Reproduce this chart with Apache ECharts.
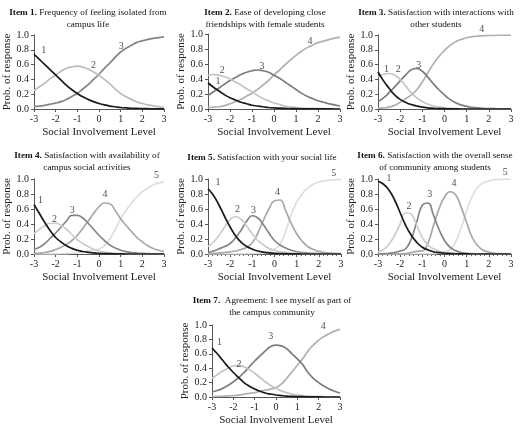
<!DOCTYPE html>
<html>
<head>
<meta charset="utf-8">
<script src="https://cdn.jsdelivr.net/npm/echarts@6/dist/echarts.min.js"></script>
<style>
html, body { margin: 0; padding: 0; background: #fff; }
#chart { width: 520px; height: 427px; }
</style>
</head>
<body>
<div id="chart"></div>
<script>
// theta grid shared by every panel
var xs = [-3, -2.75, -2.5, -2.25, -2, -1.75, -1.5, -1.25, -1, -0.75, -0.5, -0.25, 0,
	0.25, 0.5, 0.75, 1, 1.25, 1.5, 1.75, 2, 2.25, 2.5, 2.75, 3];

var item1 = [
	[.74, .67, .60, .53, .46, .39, .32, .26, .21, .165, .13, .10, .075, .055, .04, .03, .02, .015, .01, .008, .005, .004, .003, .002, .001],
	[.25, .30, .35, .41, .46, .51, .55, .57, .58, .565, .54, .50, .455, .40, .34, .27, .21, .165, .13, .095, .075, .056, .042, .033, .024],
	[.035, .04, .05, .065, .08, .10, .13, .17, .21, .27, .33, .40, .47, .55, .62, .70, .77, .82, .86, .90, .92, .94, .955, .965, .975]
];
var item2 = [
	[.35, .29, .24, .19, .15, .12, .09, .07, .05, .04, .03, .02, .015, .011, .008, .006, .004, .003, .002, .002, .001, .001, .001, 0, 0],
	[.45, .46, .45, .43, .40, .36, .32, .27, .23, .18, .14, .11, .08, .06, .04, .03, .02, .015, .01, .008, .005, .004, .003, .002, .001],
	[.18, .23, .28, .33, .38, .42, .46, .49, .51, .52, .51, .49, .45, .41, .36, .31, .26, .21, .17, .14, .11, .09, .07, .055, .04],
	[.02, .025, .03, .045, .07, .10, .13, .17, .21, .26, .32, .38, .455, .52, .59, .655, .715, .77, .815, .85, .885, .905, .925, .945, .958]
];
var item3 = [
	[.50, .38, .28, .19, .13, .09, .06, .04, .025, .016, .01, .006, .004, .002, .001, 0, 0, 0, 0, 0, 0, 0, 0, 0, 0],
	[.43, .47, .48, .46, .40, .31, .22, .15, .10, .065, .04, .025, .015, .009, .005, .003, .002, .001, 0, 0, 0, 0, 0, 0, 0],
	[.10, .15, .22, .30, .38, .46, .53, .55, .51, .43, .34, .26, .19, .13, .085, .055, .035, .022, .014, .009, .006, .004, .002, .001, .001],
	[.01, .015, .025, .05, .09, .14, .19, .26, .365, .49, .61, .71, .79, .86, .91, .94, .963, .977, .985, .99, .994, .996, .998, .999, .999]
];
var item4 = [
	[.66, .54, .42, .31, .22, .16, .11, .075, .05, .033, .022, .014, .009, .006, .004, .002, .001, 0, 0, 0, 0, 0, 0, 0, 0],
	[.27, .33, .38, .41, .41, .38, .33, .26, .19, .14, .10, .065, .04, .025, .015, .009, .005, .003, .002, .001, 0, 0, 0, 0, 0],
	[.06, .09, .14, .21, .28, .36, .44, .515, .515, .48, .41, .33, .25, .18, .12, .08, .05, .032, .02, .013, .008, .005, .003, .002, .001],
	[.01, .013, .02, .035, .06, .09, .13, .18, .25, .34, .44, .54, .63, .68, .67, .58, .47, .38, .30, .22, .16, .11, .075, .05, .035],
	[0, 0, 0, 0, .002, .003, .005, .01, .015, .025, .04, .055, .07, .11, .20, .33, .47, .58, .68, .76, .83, .88, .92, .945, .965]
];
var item5 = [
	[.87, .78, .65, .50, .36, .24, .155, .10, .065, .04, .025, .015, .01, .006, .004, .002, .001, 0, 0, 0, 0, 0, 0, 0, 0],
	[.10, .16, .25, .36, .46, .50, .46, .37, .27, .18, .12, .075, .05, .03, .02, .012, .008, .005, .003, .002, .001, 0, 0, 0, 0],
	[.02, .04, .07, .10, .14, .22, .32, .44, .51, .48, .39, .28, .18, .12, .08, .05, .03, .02, .012, .008, .005, .003, .002, .001, .001],
	[.005, .008, .012, .02, .03, .04, .06, .09, .15, .28, .45, .60, .71, .72, .58, .41, .27, .17, .10, .06, .035, .02, .012, .007, .004],
	[0, 0, 0, 0, 0, 0, .002, .003, .005, .008, .01, .03, .06, .13, .30, .52, .69, .80, .88, .93, .96, .975, .985, .99, .995]
];
var item6 = [
	[.97, .93, .85, .72, .55, .38, .25, .155, .09, .055, .03, .018, .01, .006, .003, .002, .001, 0, 0, 0, 0, 0, 0, 0, 0],
	[.03, .06, .13, .25, .40, .55, .53, .38, .22, .12, .07, .04, .02, .012, .006, .003, .002, .001, 0, 0, 0, 0, 0, 0, 0],
	[0, .005, .01, .02, .04, .07, .20, .43, .65, .68, .52, .33, .18, .09, .045, .02, .01, .005, .003, .002, .001, 0, 0, 0, 0],
	[0, 0, 0, .001, .003, .005, .02, .035, .04, .145, .375, .60, .76, .83, .79, .625, .417, .22, .11, .05, .025, .01, .005, .002, .001],
	[0, 0, 0, 0, 0, 0, 0, 0, .001, .002, .005, .01, .03, .06, .16, .35, .57, .77, .89, .95, .975, .99, .995, .998, .999]
];
var item7 = [
	[.68, .60, .51, .42, .34, .27, .20, .15, .11, .08, .055, .04, .028, .02, .013, .009, .006, .004, .003, .002, .001, 0, 0, 0, 0],
	[.26, .31, .36, .40, .43, .44, .42, .38, .33, .27, .21, .16, .12, .085, .06, .04, .028, .019, .013, .009, .006, .004, .003, .002, .001],
	[.07, .09, .12, .16, .21, .27, .34, .42, .50, .57, .64, .70, .72, .71, .67, .60, .53, .45, .34, .26, .20, .15, .11, .08, .055],
	[.005, .007, .01, .015, .02, .025, .04, .05, .06, .08, .095, .11, .13, .18, .26, .35, .44, .53, .64, .72, .79, .84, .88, .915, .94]
];

var items = [item1, item2, item3, item4, item5, item6, item7];

var titleBold = ['Item 1.', 'Item 2.', 'Item 3.', 'Item 4.', 'Item 5.', 'Item 6.', 'Item 7. '];
var titleRest = [
	[' Frequency of feeling isolated from', 'campus life'],
	[' Ease of developing close', 'friendships with female students'],
	[' Satisfaction with interactions with', 'other students'],
	[' Satisfaction with availability of', 'campus social activities'],
	[' Satisfaction with your social life'],
	[' Satisfaction with the overall sense', 'of community among students'],
	[' Agreement: I see myself as part of', 'the campus community']
];

// where the category numbers sit, in axis units
var labelPos = [
	[[-2.55, 0.79], [-0.25, 0.59], [1.03, 0.85]],
	[[-2.55, 0.37], [-2.35, 0.52], [-0.54, 0.57], [1.64, 0.9]],
	[[-2.62, 0.54], [-2.09, 0.54], [-1.16, 0.59], [1.68, 1.08]],
	[[-2.7, 0.72], [-2.05, 0.46], [-1.23, 0.58], [0.28, 0.8], [2.65, 1.05]],
	[[-2.55, 0.95], [-1.67, 0.59], [-0.95, 0.58], [0.14, 0.82], [2.67, 1.07]],
	[[-2.5, 1.01], [-1.6, 0.64], [-0.66, 0.8], [0.43, 0.94], [2.74, 1.09]],
	[[-2.65, 0.76], [-1.74, 0.46], [-0.25, 0.84], [2.21, 0.98]]
];

var colors3 = ['#1a1a1a', '#bcbcbc', '#858585'];
var colors4 = ['#1a1a1a', '#c4c4c4', '#7c7c7c', '#b0b0b0'];
var colors5 = ['#1a1a1a', '#cccccc', '#858585', '#a8a8a8', '#dedede'];

var grids = [
	{ left: 34, top: 35, width: 130, height: 74, tx: 88, ty: 7 },
	{ left: 208, top: 34, width: 132, height: 75, tx: 265, ty: 7 },
	{ left: 378, top: 35, width: 133, height: 74, tx: 436, ty: 7 },
	{ left: 34, top: 179, width: 130, height: 75, tx: 87, ty: 150 },
	{ left: 208, top: 179, width: 133, height: 75, tx: 262, ty: 152 },
	{ left: 378, top: 179, width: 133, height: 75, tx: 435, ty: 150 },
	{ left: 212, top: 325, width: 128, height: 73, tx: 272, ty: 295 }
];

var serif = 'Liberation Serif';
var option = {
	animation: false,
	backgroundColor: '#fff',
	title: [],
	grid: [],
	xAxis: [],
	yAxis: [],
	series: []
};

items.forEach(function(curves, i) {
	var g = grids[i];
	var minor = (i === 4 || i === 5);
	var cols = curves.length === 3 ? colors3 : (curves.length === 4 ? colors4 : colors5);
	var lines = titleRest[i];
	var text = '{b|' + titleBold[i] + '}{r|' + lines[0] + '}' + (lines[1] ? '\n{r|' + lines[1] + '}' : '');
	option.title.push({
		text: text,
		left: g.tx,
		top: g.ty,
		padding: 0,
		textAlign: 'center',
		textStyle: {
			fontWeight: 'normal',
			rich: {
				b: { fontFamily: serif, fontWeight: 'bold', fontSize: 9.2, color: '#111', lineHeight: 12 },
				r: { fontFamily: serif, fontWeight: 'normal', fontSize: 9.2, color: '#111', lineHeight: 12 }
			}
		}
	});
	option.grid.push({ left: g.left, top: g.top, width: g.width, height: g.height });
	option.xAxis.push({
		type: 'value',
		gridIndex: i,
		min: -3,
		max: 3,
		interval: 1,
		name: 'Social Involvement Level',
		nameLocation: 'middle',
		nameGap: 18,
		nameTextStyle: { fontFamily: serif, fontSize: 11, color: '#222' },
		axisLine: { onZero: false, lineStyle: { color: '#555', width: 1 } },
		axisTick: { show: true, length: 3, lineStyle: { color: '#555' } },
		minorTick: { show: minor, splitNumber: 5, length: 2, lineStyle: { color: '#666' } },
		axisLabel: { fontFamily: serif, fontSize: 10, color: '#222', margin: 5 },
		splitLine: { show: false }
	});
	option.yAxis.push({
		type: 'value',
		gridIndex: i,
		min: 0,
		max: 1,
		interval: 0.2,
		name: 'Prob. of response',
		nameLocation: 'middle',
		nameGap: 20,
		nameTextStyle: { fontFamily: serif, fontSize: 11, color: '#222' },
		axisLine: { show: true, onZero: false, lineStyle: { color: '#555', width: 1 } },
		axisTick: { show: true, length: 3, lineStyle: { color: '#555' } },
		axisLabel: {
			fontFamily: serif, fontSize: 10, color: '#222', margin: 5,
			formatter: function(v) { return v.toFixed(1); }
		},
		splitLine: { show: false }
	});
	curves.forEach(function(c, k) {
		option.series.push({
			type: 'line',
			xAxisIndex: i,
			yAxisIndex: i,
			smooth: true,
			showSymbol: false,
			z: 10 - k,
			lineStyle: { color: cols[k], width: 1.7 },
			data: xs.map(function(x, j) { return [x, c[j]]; })
		});
	});
	option.series.push({
		type: 'scatter',
		xAxisIndex: i,
		yAxisIndex: i,
		symbolSize: 0,
		clip: false,
		silent: true,
		z: 20,
		label: {
			show: true,
			position: 'inside',
			fontFamily: serif,
			fontSize: 10,
			color: '#222',
			formatter: function(p) { return String(p.dataIndex + 1); }
		},
		data: labelPos[i]
	});
});

var myChart = echarts.init(document.getElementById('chart'));
myChart.setOption(option);
</script>
</body>
</html>
